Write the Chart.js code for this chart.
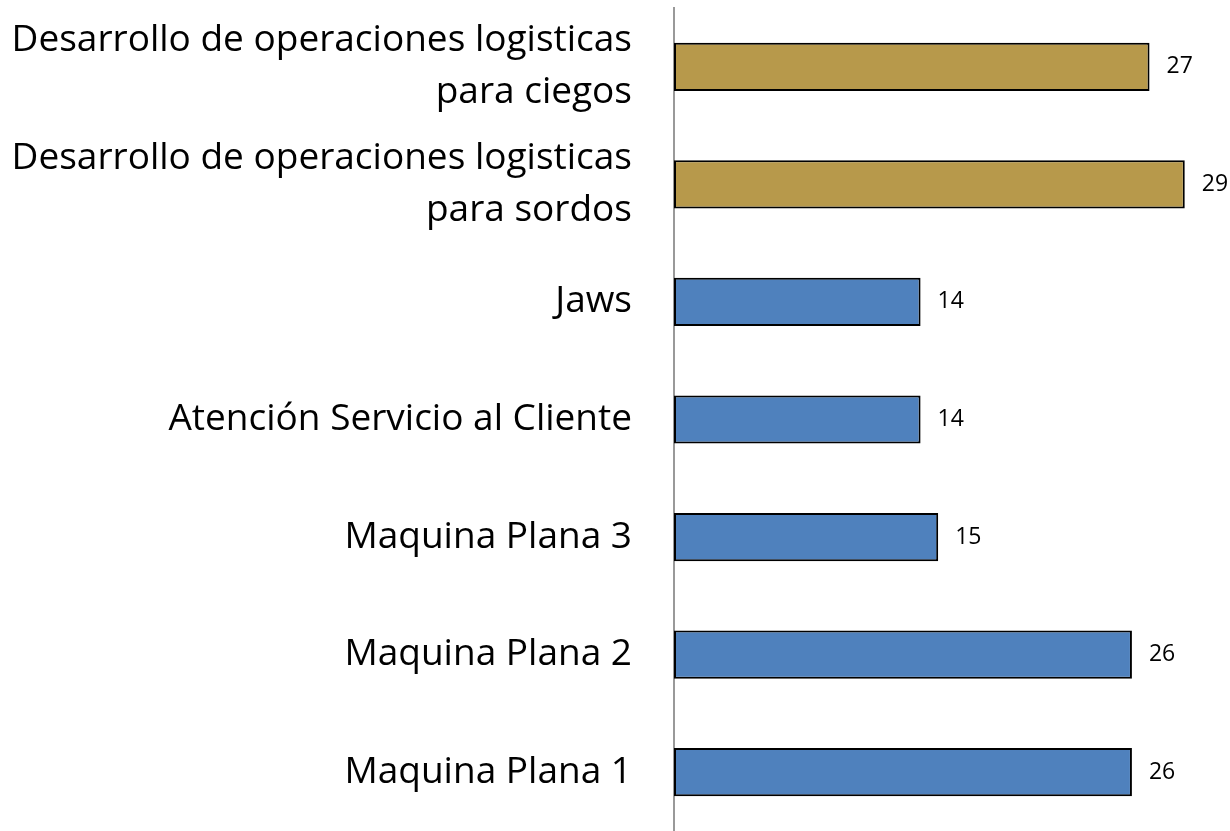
<!DOCTYPE html>
<html>
<head>
<meta charset="utf-8">
<script src="https://cdn.jsdelivr.net/npm/chart.js@4"></script>
<style>
  html, body { margin: 0; padding: 0; background: #fff; }
  #wrap { width: 1230px; height: 831px; }
</style>
</head>
<body>
<div id="wrap"><canvas id="chart" width="1230" height="831"></canvas></div>
<script>
// categorias (de arriba hacia abajo)
const categories = [
  ['Desarrollo de operaciones logisticas', 'para ciegos'],
  ['Desarrollo de operaciones logisticas', 'para sordos'],
  'Jaws',
  'Atención Servicio al Cliente',
  'Maquina Plana 3',
  'Maquina Plana 2',
  'Maquina Plana 1'
];
const values = [27, 29, 14, 14, 15, 26, 26];
const highlighted = [true, true, false, false, false, false, false];

const GOLD = '#b7994b';
const BLUE = '#4f81bd';

// etiquetas de valor al final de cada barra
const valueLabels = {
  id: 'valueLabels',
  afterDatasetsDraw(chart) {
    const ctx = chart.ctx;
    const meta = chart.getDatasetMeta(0);
    ctx.save();
    ctx.font = '23px "Open Sans"';
    ctx.fillStyle = '#000';
    ctx.textAlign = 'left';
    ctx.textBaseline = 'middle';
    meta.data.forEach((bar, i) => {
      ctx.fillText(String(values[i]), bar.x + 17, bar.y);
    });
    ctx.restore();
  }
};

new Chart(document.getElementById('chart').getContext('2d'), {
  type: 'bar',
  data: {
    labels: categories,
    datasets: [{
      data: values,
      backgroundColor: ctx => highlighted[ctx.dataIndex] ? GOLD : BLUE,
      borderColor: '#000',
      borderWidth: 2,
      borderSkipped: false,
      categoryPercentage: 1,
      barPercentage: 0.41
    }]
  },
  options: {
    indexAxis: 'y',
    responsive: false,
    animation: false,
    layout: { padding: { top: 8, right: 10, bottom: 0, left: 0 } },
    plugins: {
      legend: { display: false },
      tooltip: { enabled: false }
    },
    scales: {
      x: {
        display: false,
        min: 0,
        max: 31
      },
      y: {
        afterFit: scale => {
          scale.width = 674;
          scale.paddingTop = 0;
          scale.paddingBottom = 0;
        },
        grid: { display: false, drawTicks: false },
        border: { display: true, color: '#999', width: 2 },
        ticks: {
          color: '#000',
          padding: 42,
          font: { family: '"Open Sans"', size: 37, lineHeight: 1.41 }
        }
      }
    }
  },
  plugins: [valueLabels]
});
</script>
</body>
</html>
